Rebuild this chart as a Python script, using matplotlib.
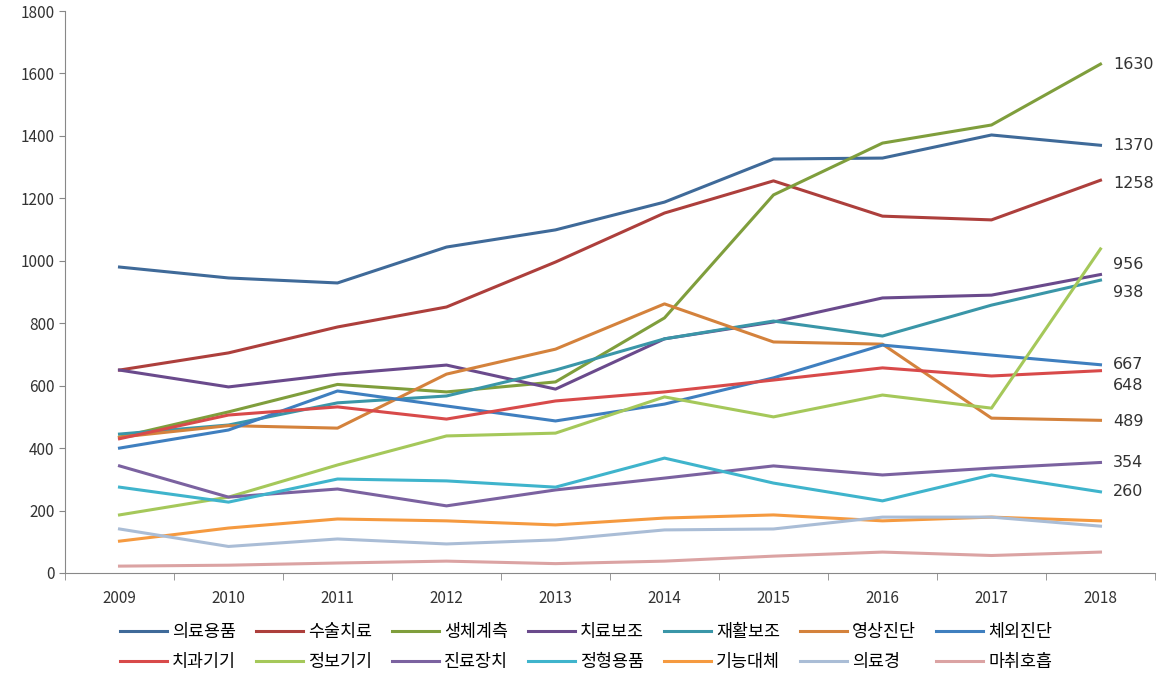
import numpy as np
import matplotlib
matplotlib.use("Agg")
import matplotlib.pyplot as plt
from matplotlib.ticker import FixedLocator, NullFormatter

plt.rcParams['font.family'] = ['Noto Sans CJK KR', 'DejaVu Sans']

years = [2009, 2010, 2011, 2012, 2013, 2014, 2015, 2016, 2017, 2018]

names = ["의료용품", "수술치료", "생체계측", "치료보조", "재활보조", "영상진단", "체외진단",
         "치과기기", "정보기기", "진료장치", "정형용품", "기능대체", "의료경", "마취호흡"]

med_supplies = [980, 945, 929, 1044, 1099, 1188, 1326, 1329, 1403, 1370]
surgery = [650, 705, 788, 852, 996, 1153, 1256, 1143, 1131, 1258]
biometric = [435, 516, 604, 580, 612, 817, 1211, 1377, 1435, 1630]
therapy_aid = [650, 596, 637, 666, 589, 750, 804, 881, 890, 956]
rehab = [445, 474, 545, 567, 650, 750, 807, 759, 858, 938]
imaging = [435, 472, 464, 637, 717, 862, 740, 733, 496, 489]
ivd = [400, 458, 583, 535, 487, 541, 625, 730, 698, 667]
dental = [430, 506, 532, 493, 551, 580, 618, 657, 631, 648]
info_dev = [186, 243, 346, 439, 448, 564, 500, 570, 528, 1038]
clinic_unit = [343, 243, 269, 215, 266, 304, 343, 314, 336, 354]
ortho = [275, 227, 301, 295, 275, 368, 288, 231, 314, 260]
func_replace = [102, 144, 173, 167, 154, 176, 186, 167, 179, 167]
scopes = [141, 85, 109, 93, 106, 138, 141, 179, 179, 150]
anesthesia = [22, 25, 32, 38, 30, 38, 54, 67, 56, 67]

series = [med_supplies, surgery, biometric, therapy_aid, rehab, imaging, ivd,
          dental, info_dev, clinic_unit, ortho, func_replace, scopes, anesthesia]

colors = ["#3f6a99", "#ad3f3c", "#7f9e3c", "#6a4a8c", "#3a96a8", "#d4823c", "#3f7fbf",
          "#d84a4a", "#a5c85a", "#7b62a0", "#3fb4cc", "#f59a40", "#aabdd6", "#dba3a3"]

# end labels: (series index, label, offset in points to spread crowded ones)
end_labels = [(2, "1630", 0), (0, "1370", 0), (1, "1258", -2), (3, "956", 7),
              (4, "938", -9), (6, "667", 0), (7, "648", -11), (5, "489", -1),
              (9, "354", 0), (10, "260", 0)]

fig = plt.figure(figsize=(11.67, 6.81), dpi=100)
ax = fig.add_axes([0.0557, 0.1586, 0.934, 0.8252])

x = np.arange(len(years))
lines = []
for vals, name, c in zip(series, names, colors):
    ln, = ax.plot(x, vals, color=c, lw=2.2, label=name)
    lines.append(ln)

for idx, txt, dy in end_labels:
    ax.annotate(txt, (x[-1], series[idx][-1]), xytext=(9, dy), textcoords="offset points",
                va="center", ha="left", fontsize=11.5, color="#333333", family="DejaVu Sans")

ax.set_xlim(-0.5, len(years) - 0.5)
ax.set_ylim(0, 1800)
ax.set_yticks(range(0, 1801, 200))
ax.set_xticks(x)
ax.set_xticklabels([str(y) for y in years])
ax.xaxis.set_minor_locator(FixedLocator(np.arange(-0.5, len(years), 1.0)))
ax.xaxis.set_minor_formatter(NullFormatter())
ax.tick_params(axis="x", which="major", length=0, pad=12, labelsize=11, colors="#333333")
ax.tick_params(axis="x", which="minor", length=5, color="#888888")
ax.tick_params(axis="y", length=4, color="#888888", labelsize=11, labelcolor="#333333")
for sp in ["top", "right"]:
    ax.spines[sp].set_visible(False)
for sp in ["left", "bottom"]:
    ax.spines[sp].set_color("#888888")

# legend fills column by column, so interleave to get row-wise order
ncol = 7
order = [i + r * ncol for i in range(ncol) for r in range(2)]
fig.legend([lines[i] for i in order], [names[i] for i in order],
           loc="lower center", bbox_to_anchor=(0.502, -0.008), ncol=ncol,
           frameon=False, fontsize=12.5, handlelength=2.7, columnspacing=1.15,
           handletextpad=0.3, labelspacing=0.7)

fig.savefig("out.png", dpi=100)
